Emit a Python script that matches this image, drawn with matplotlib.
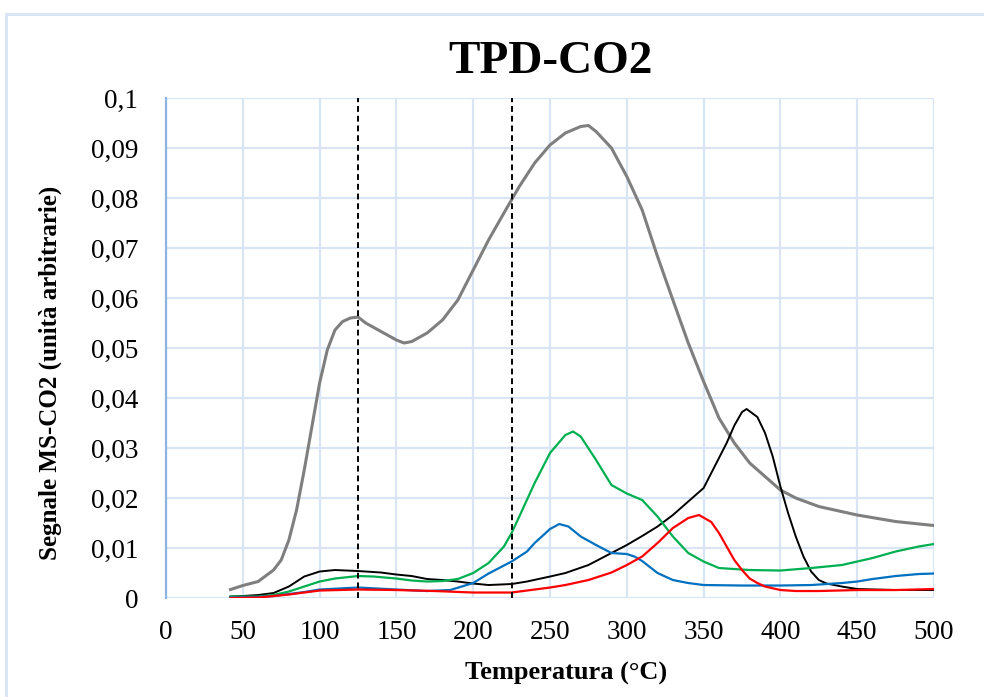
import matplotlib
matplotlib.use("Agg")
import matplotlib.pyplot as plt
from matplotlib.lines import Line2D
from matplotlib.ticker import FuncFormatter, MultipleLocator

plt.rcParams['font.family'] = ['Liberation Serif', 'DejaVu Serif']

# curves (temperature in °C, signal in a.u.)
grey_t = [42, 50, 60, 70, 75, 80, 85, 90, 95, 100, 105, 110, 115, 120, 125, 130, 140, 150, 155, 160,
          170, 180, 190, 200, 210, 220, 230, 240, 250, 260, 270, 275, 280, 290, 300, 310, 320, 330,
          340, 350, 360, 370, 380, 390, 400, 410, 425, 450, 475, 500]
grey_v = [0.0017, 0.0025, 0.0033, 0.0056, 0.0076, 0.0116, 0.0176, 0.0256, 0.0343, 0.0430, 0.0496,
          0.0536, 0.0553, 0.0560, 0.0562, 0.0550, 0.0533, 0.0516, 0.0510, 0.0513, 0.0530, 0.0556,
          0.0596, 0.0656, 0.0716, 0.0770, 0.0823, 0.0870, 0.0906, 0.0930, 0.0943, 0.0945, 0.0933,
          0.0900, 0.0843, 0.0776, 0.0683, 0.0596, 0.0510, 0.0433, 0.0360, 0.0310, 0.0270, 0.0243,
          0.0216, 0.0200, 0.0183, 0.0166, 0.0153, 0.0145]

black_t = [42, 50, 60, 70, 80, 90, 100, 110, 125, 140, 150, 160, 170, 180, 190, 200, 210, 225, 235,
           250, 260, 275, 290, 300, 310, 320, 330, 340, 350, 360, 365, 370, 375, 378, 385, 390, 395,
           400, 405, 410, 415, 420, 425, 430, 440, 450, 475, 500]
black_v = [0.0003, 0.0004, 0.0006, 0.0010, 0.0023, 0.0043, 0.0053, 0.0056, 0.0054, 0.0051, 0.0047,
           0.0044, 0.0038, 0.0036, 0.0033, 0.0029, 0.0026, 0.0028, 0.0033, 0.0043, 0.0050, 0.0066,
           0.0090, 0.0106, 0.0124, 0.0143, 0.0166, 0.0193, 0.0220, 0.0280, 0.0310, 0.0345, 0.0372,
           0.0378, 0.0362, 0.0330, 0.0283, 0.0223, 0.0170, 0.0123, 0.0083, 0.0053, 0.0036, 0.0029,
           0.0023, 0.0018, 0.0016, 0.0016]

green_t = [42, 60, 70, 80, 90, 100, 110, 125, 135, 150, 160, 170, 180, 190, 200, 210, 220, 225, 230,
           240, 250, 260, 265, 270, 280, 290, 300, 310, 320, 330, 340, 350, 360, 370, 380, 400, 420,
           440, 450, 460, 475, 490, 500]
green_v = [0.0003, 0.0003, 0.0006, 0.0013, 0.0023, 0.0033, 0.0039, 0.0044, 0.0043, 0.0039, 0.0035,
           0.0033, 0.0034, 0.0038, 0.0050, 0.0070, 0.0103, 0.0130, 0.0163, 0.0230, 0.0290, 0.0326,
           0.0333, 0.0323, 0.0276, 0.0226, 0.0209, 0.0196, 0.0163, 0.0123, 0.0090, 0.0073, 0.0060,
           0.0058, 0.0056, 0.0055, 0.0060, 0.0066, 0.0073, 0.0080, 0.0093, 0.0103, 0.0108]

blue_t = [42, 60, 70, 80, 90, 100, 125, 150, 170, 185, 200, 210, 225, 235, 240, 250, 256, 262, 270,
          280, 290, 300, 305, 310, 320, 330, 340, 350, 375, 400, 420, 440, 450, 460, 475, 490, 500]
blue_v = [0.0001, 0.0002, 0.0004, 0.0008, 0.0012, 0.0017, 0.0021, 0.0017, 0.0014, 0.0016, 0.0030,
          0.0049, 0.0073, 0.0093, 0.0110, 0.0138, 0.0148, 0.0143, 0.0123, 0.0106, 0.0090, 0.0088,
          0.0083, 0.0074, 0.0050, 0.0036, 0.0030, 0.0026, 0.0025, 0.0025, 0.0026, 0.0030, 0.0033,
          0.0038, 0.0044, 0.0048, 0.0049]

red_t = [42, 60, 80, 100, 125, 150, 175, 200, 225, 250, 260, 275, 290, 300, 310, 320, 330, 340, 347,
         355, 360, 365, 370, 375, 380, 385, 390, 400, 410, 425, 450, 475, 500]
red_v = [0.0000, 0.0001, 0.0007, 0.0015, 0.0017, 0.0016, 0.0014, 0.0011, 0.0011, 0.0021, 0.0026,
         0.0036, 0.0051, 0.0066, 0.0083, 0.0110, 0.0140, 0.0160, 0.0166, 0.0152, 0.0130, 0.0103,
         0.0076, 0.0056, 0.0039, 0.0030, 0.0023, 0.0016, 0.0014, 0.0014, 0.0016, 0.0016, 0.0018]

limits = [125, 225]

grid_col = '#D9E4F4'

fig = plt.figure(figsize=(9.84, 6.97), dpi=100)
ax = fig.add_axes([0.1687, 0.142, 0.7805, 0.7174])

ax.plot(grey_t, grey_v, color='#7F7F7F', lw=2.2)
ax.plot(black_t, black_v, color='black', lw=1.4)
ax.plot(green_t, green_v, color='#00B050', lw=1.6)
ax.plot(blue_t, blue_v, color='#0070C0', lw=1.6)
ax.plot(red_t, red_v, color='#FF0000', lw=1.6)

for t in limits:
    ax.axvline(t, color='black', lw=1.4, ls=(0, (3, 2)), zorder=5)

ax.set_xlim(0, 500)
ax.set_ylim(0, 0.1)
ax.xaxis.set_major_locator(MultipleLocator(50))
ax.yaxis.set_major_locator(MultipleLocator(0.01))
ax.yaxis.set_major_formatter(FuncFormatter(
    lambda v, p: f"{v:.2f}".rstrip('0').rstrip('.').replace('.', ',')))

ax.grid(True, color=grid_col, lw=1.6, zorder=0)
ax.set_axisbelow(True)
for s in ['top', 'right', 'bottom']:
    ax.spines[s].set_visible(False)
ax.spines['left'].set_color('#8EB4E3')
ax.spines['left'].set_linewidth(1.6)
ax.tick_params(length=0, labelsize=19.5)
ax.tick_params(axis='y', pad=20)
ax.tick_params(axis='x', pad=16)

ax.set_title('TPD-CO2', fontsize=34, fontweight='bold', pad=18)
ax.set_xlabel('Temperatura (°C)', fontsize=19, fontweight='bold')
ax.set_ylabel('Segnale MS-CO2 (unità arbitrarie)', fontsize=18, fontweight='bold')
ax.xaxis.set_label_coords(0.521, -0.128)
ax.yaxis.set_label_coords(-0.135, 0.45)

# outer chart border
fig.add_artist(Line2D([0.006, 1.0], [0.98, 0.98], color=grid_col, lw=2))
fig.add_artist(Line2D([0.006, 0.006], [0.0, 0.98], color=grid_col, lw=2))

fig.savefig('out.png', dpi=100)
